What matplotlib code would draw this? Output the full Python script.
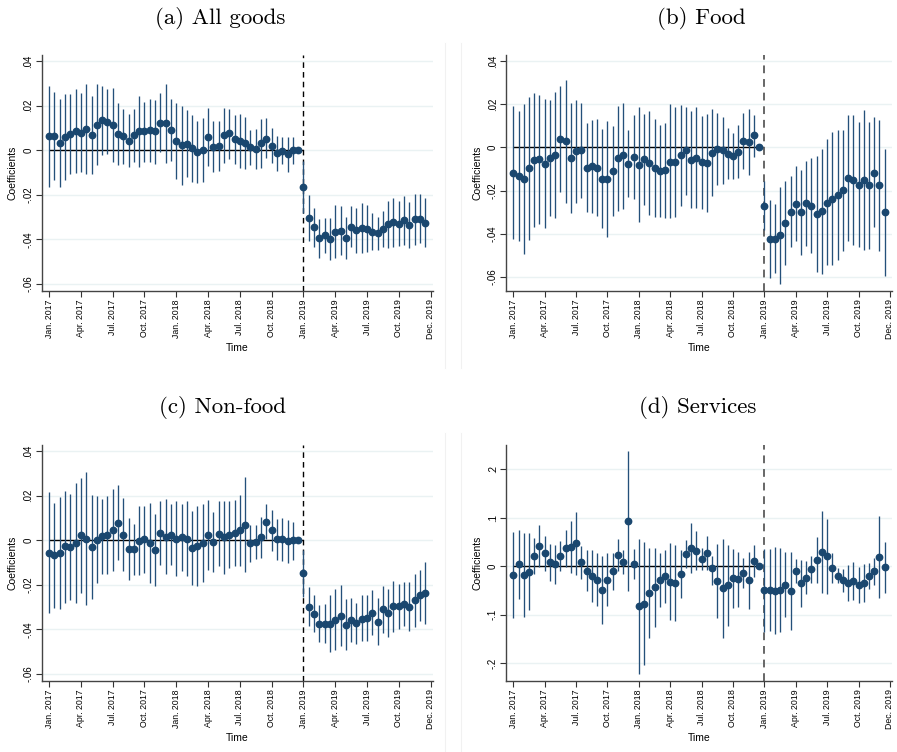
import numpy as np
import matplotlib
matplotlib.use("Agg")
import matplotlib.pyplot as plt
from matplotlib.lines import Line2D

# half-month periods, Jan. 2017 .. second half of Dec. 2019; index 47 is the omitted reference
nan = np.nan

tick_pos = [0, 6, 12, 18, 24, 30, 36, 42, 48, 54, 60, 66, 72]
tick_labels = ["Jan. 2017", "Apr. 2017", "Jul. 2017", "Oct. 2017",
               "Jan. 2018", "Apr. 2018", "Jul. 2018", "Oct. 2018",
               "Jan. 2019", "Apr. 2019", "Jul. 2019", "Oct. 2019", "Dec. 2019"]
event_period = 48

titles = ["(a) All goods", "(b) Food", "(c) Non-food", "(d) Services"]

all_coef = [.0063, .0063, .0030, .0057, .0072, .0085, .0078, .0094, .0069, .0113, .0133, .0128,
            .0113, .0072, .0063, .0043, .0066, .0085, .0085, .0090, .0084, .0124, .0122, .0091,
            .0040, .0021, .0027, .0009, -.0009, .0001, .0060, .0016, .0019, .0066, .0075, .0049,
            .0043, .0033, .0013, .0007, .0030, .0052, .0018, -.0015, -.0003, -.0019, .0001, 0,
            -.0167, -.0304, -.0346, -.0394, -.0382, -.0397, -.0367, -.0361, -.0393, -.0343, -.0358, -.0351,
            -.0352, -.0366, -.0373, -.0352, -.0333, -.0324, -.0333, -.0315, -.0334, -.0309, -.0309, -.0325]
all_hi = [.0290, .0263, .0228, .0252, .0250, .0273, .0258, .0299, .0245, .0299, .0288, .0275,
          .0279, .0210, .0184, .0161, .0184, .0242, .0216, .0228, .0224, .0255, .0296, .0228,
          .0210, .0199, .0178, .0158, .0131, .0143, .0188, .0131, .0131, .0188, .0185, .0158,
          .0164, .0149, .0091, .0096, .0139, .0142, .0099, .0064, .0060, .0060, .0060, nan,
          -.0051, -.0201, -.0258, -.0307, -.0304, -.0304, -.0248, -.0251, -.0300, -.0252, -.0260, -.0237,
          -.0246, -.0281, -.0299, -.0273, -.0228, -.0215, -.0228, -.0207, -.0234, -.0196, -.0199, -.0216]
all_lo = [-.0164, -.0133, -.0167, -.0136, -.0106, -.0104, -.0100, -.0106, -.0106, -.0069, -.0024, -.0019,
          -.0052, -.0067, -.0061, -.0075, -.0052, -.0076, -.0052, -.0052, -.0063, -.0010, -.0057, -.0049,
          -.0130, -.0158, -.0122, -.0142, -.0148, -.0143, -.0073, -.0100, -.0094, -.0060, -.0039, -.0061,
          -.0081, -.0085, -.0066, -.0084, -.0081, -.0034, -.0060, -.0093, -.0064, -.0097, -.0061, nan,
          -.0280, -.0407, -.0434, -.0482, -.0461, -.0493, -.0482, -.0472, -.0487, -.0433, -.0461, -.0461,
          -.0457, -.0449, -.0449, -.0437, -.0439, -.0433, -.0430, -.0424, -.0439, -.0425, -.0418, -.0436]

food_coef = [-.0116, -.0134, -.0147, -.0096, -.0056, -.0054, -.0076, -.0048, -.0034, .0040, .0031, -.0049,
             -.0015, -.0012, -.0093, -.0088, -.0093, -.0144, -.0145, -.0108, -.0049, -.0037, -.0076, -.0045,
             -.0080, -.0054, -.0073, -.0094, -.0111, -.0106, -.0066, -.0069, -.0037, -.0012, -.0057, -.0048,
             -.0068, -.0074, -.0025, -.0006, -.0012, -.0028, -.0040, -.0019, .0031, .0026, .0056, 0,
             -.0272, -.0426, -.0424, -.0407, -.0349, -.0298, -.0261, -.0301, -.0259, -.0269, -.0307, -.0296,
             -.0255, -.0238, -.0219, -.0198, -.0140, -.0150, -.0174, -.0150, -.0176, -.0116, -.0176, -.0299]
food_hi = [.0193, .0170, .0201, .0235, .0252, .0245, .0224, .0221, .0258, .0285, .0313, .0204,
           .0221, .0207, .0111, .0127, .0130, .0086, .0122, .0100, .0191, .0208, .0080, .0150,
           .0188, .0154, .0168, .0134, .0103, .0113, .0199, .0185, .0196, .0188, .0167, .0188,
           .0147, .0153, .0176, .0159, .0139, .0091, .0065, .0103, .0159, .0177, .0151, nan,
           -.0157, -.0244, -.0262, -.0182, -.0156, -.0134, -.0085, -.0102, -.0063, -.0049, -.0039, -.0005,
           .0040, .0073, .0082, .0083, .0151, .0151, .0117, .0174, .0120, .0139, .0128, -.0005]
food_lo = [-.0424, -.0434, -.0494, -.0427, -.0366, -.0352, -.0373, -.0319, -.0327, -.0205, -.0255, -.0302,
           -.0258, -.0233, -.0301, -.0304, -.0319, -.0375, -.0415, -.0319, -.0292, -.0287, -.0230, -.0238,
           -.0347, -.0265, -.0312, -.0324, -.0324, -.0326, -.0327, -.0323, -.0272, -.0219, -.0282, -.0282,
           -.0284, -.0301, -.0225, -.0173, -.0170, -.0148, -.0145, -.0142, -.0100, -.0128, -.0042, nan,
           -.0384, -.0606, -.0583, -.0630, -.0542, -.0461, -.0435, -.0500, -.0455, -.0489, -.0577, -.0588,
           -.0546, -.0546, -.0519, -.0478, -.0435, -.0452, -.0463, -.0474, -.0469, -.0370, -.0481, -.0593]

nonfood_coef = [-.0057, -.0067, -.0058, -.0028, -.0030, -.0012, .0024, .0007, -.0030, .0001, .0018, .0022,
                .0046, .0079, .0025, -.0039, -.0042, -.0004, .0003, -.0013, -.0045, .0031, .0016, .0025,
                .0007, .0013, .0007, -.0036, -.0025, -.0013, .0024, -.0009, .0028, .0015, .0024, .0033,
                .0045, .0070, -.0013, -.0007, .0012, .0082, .0045, .0006, .0004, -.0006, -.0001, 0,
                -.0146, -.0299, -.0333, -.0375, -.0378, -.0376, -.0357, -.0339, -.0379, -.0358, -.0373, -.0352,
                -.0349, -.0325, -.0366, -.0310, -.0327, -.0297, -.0297, -.0285, -.0299, -.0270, -.0248, -.0236]
nonfood_hi = [.0218, .0167, .0193, .0222, .0207, .0255, .0281, .0304, .0201, .0197, .0184, .0196,
              .0228, .0246, .0191, .0100, .0073, .0151, .0154, .0167, .0118, .0176, .0184, .0163,
              .0176, .0163, .0176, .0131, .0152, .0161, .0181, .0125, .0176, .0175, .0175, .0179,
              .0203, .0284, .0067, .0069, .0103, .0160, .0136, .0094, .0099, .0091, .0082, nan,
              -.0043, -.0210, -.0248, -.0293, -.0288, -.0246, -.0218, -.0203, -.0263, -.0260, -.0281, -.0248,
              -.0246, -.0224, -.0260, -.0207, -.0219, -.0184, -.0197, -.0188, -.0188, -.0151, -.0133, -.0096]
nonfood_lo = [-.0328, -.0303, -.0309, -.0281, -.0270, -.0284, -.0237, -.0293, -.0266, -.0194, -.0152, -.0151,
              -.0139, -.0090, -.0140, -.0179, -.0158, -.0157, -.0149, -.0191, -.0207, -.0112, -.0151, -.0110,
              -.0161, -.0137, -.0163, -.0203, -.0204, -.0188, -.0134, -.0142, -.0118, -.0151, -.0125, -.0116,
              -.0115, -.0143, -.0097, -.0084, -.0079, .0007, -.0051, -.0088, -.0093, -.0103, -.0087, nan,
              -.0257, -.0387, -.0412, -.0457, -.0464, -.0503, -.0493, -.0475, -.0491, -.0457, -.0467, -.0454,
              -.0454, -.0428, -.0470, -.0418, -.0436, -.0412, -.0399, -.0387, -.0409, -.0391, -.0364, -.0376]

serv_coef = [-.0179, .0041, -.0172, -.0110, .0220, .0412, .0268, .0089, .0048, .0213, .0371, .0399,
             .0474, .0082, -.0089, -.0192, -.0275, -.0495, -.0275, -.0096, .0241, .0096, .0935, .0041,
             -.0825, -.0770, -.0543, -.0426, -.0282, -.0206, -.0316, -.0344, -.0151, .0247, .0371, .0323,
             .0158, .0275, -.0027, -.0302, -.0454, -.0392, -.0241, -.0268, -.0131, -.0282, .0110, 0,
             -.0495, -.0488, -.0502, -.0488, -.0378, -.0509, -.0096, -.0351, -.0234, -.0062, .0131, .0296,
             .0206, -.0027, -.0192, -.0289, -.0344, -.0302, -.0385, -.0337, -.0206, -.0103, .0192, -.0021]
serv_hi = [.0701, .0749, .0694, .0680, .0577, .0852, .0625, .0460, .0440, .0515, .0749, .0935,
           .1127, .0419, .0330, .0330, .0275, .0213, .0275, .0275, .0564, .0344, .2378, .0357,
           .0570, .0502, .0385, .0385, .0268, .0337, .0481, .0440, .0344, .0543, .0893, .0722,
           .0385, .0625, .0206, .0454, .0570, .0440, .0357, .0296, .0179, .0302, .0433, nan,
           .0364, .0364, .0392, .0378, .0296, .0296, .0151, .0131, .0110, .0213, .0598, .1141,
           .0969, .0268, -.0034, -.0062, .0021, .0096, -.0014, .0048, .0062, .0172, .1038, .0502]
serv_lo = [-.1072, -.0667, -.1038, -.0900, -.0151, -.0021, -.0089, -.0302, -.0357, -.0096, -.0007, -.0137,
           -.0179, -.0254, -.0509, -.0735, -.0825, -.1189, -.0825, -.0481, -.0089, -.0151, -.0502, -.0254,
           -.2213, -.2034, -.1471, -.1244, -.0832, -.0749, -.1113, -.1134, -.0646, -.0041, -.0144, -.0069,
           -.0076, -.0082, -.0385, -.1072, -.1485, -.1230, -.0852, -.0838, -.0447, -.0880, -.0213, nan,
           -.1347, -.1333, -.1395, -.1347, -.1052, -.1313, -.0344, -.0832, -.0577, -.0344, -.0344, -.0550,
           -.0564, -.0351, -.0351, -.0522, -.0715, -.0701, -.0756, -.0735, -.0474, -.0378, -.0646, -.0543]

panels = [
    (all_coef, all_lo, all_hi, [.04, .02, 0, -.02, -.04, -.06], (-.0631, .0427)),
    (food_coef, food_lo, food_hi, [.04, .02, 0, -.02, -.04, -.06], (-.0663, .0428)),
    (nonfood_coef, nonfood_lo, nonfood_hi, [.04, .02, 0, -.02, -.04, -.06], (-.0631, .0427)),
    (serv_coef, serv_lo, serv_hi, [.2, .1, 0, -.1, -.2], (-.236, .25)),
]


def stata_label(v):
    if v == 0:
        return "0"
    s = f"{v:g}"
    return s.replace("0.", ".")


W, H = 897, 752
navy = "#1a476f"
fig = plt.figure(figsize=(W / 100, H / 100), dpi=100)

# axes boxes in pixels: (left, top, right, bottom)
boxes = [(41.7, 55, 432.7, 290.7), (506, 55, 892, 290.7),
         (41.7, 445, 432.7, 680.7), (506, 445, 892, 680.7)]
title_xy = [(220, 18), (701, 18), (222, 408), (698, 408)]

for k, (coef, lo, hi, yticks, ylim) in enumerate(panels):
    l, t, r, b = boxes[k]
    ax = fig.add_axes([l / W, 1 - b / H, (r - l) / W, (b - t) / H])
    x = np.arange(len(coef))
    coef = np.array(coef)

    ax.vlines(x, lo, hi, color="#24507a", lw=0.95, zorder=3)
    ax.plot(x, coef, "o", color=navy, ms=4.6, mec=navy, zorder=4)
    ax.hlines(0, 0, event_period, color="black", lw=1.0, zorder=2)
    right_col = k % 2 == 1
    ax.axvline(event_period, color="#666666" if right_col else "black",
               lw=1.4 if right_col else 1.0, ls=(0, (4, 3)), zorder=2)

    ax.set_xlim(-1.4, 72.4)
    ax.set_ylim(*ylim)
    ax.set_yticks(yticks)
    ax.set_yticklabels([stata_label(v) for v in yticks], rotation=90, va="center",
                       fontsize=7, family="Liberation Sans")
    ax.set_xticks(tick_pos)
    ax.set_xticklabels(tick_labels, rotation=90, fontsize=6.3, family="Liberation Sans")
    ax.tick_params(length=4, width=0.8, color="#333333", pad=2)
    ax.grid(axis="y", color="#eaf2f3", lw=1.0, zorder=0)
    ax.set_axisbelow(True)
    for s in ["top", "right"]:
        ax.spines[s].set_visible(False)
    for s in ["left", "bottom"]:
        ax.spines[s].set_color("#444444")
        ax.spines[s].set_linewidth(1.0)
    ax.set_ylabel("Coefficients", fontsize=7.5, family="Liberation Sans", labelpad=4)
    ax.set_xlabel("Time", fontsize=7.5, family="Liberation Sans", labelpad=3)

    tx, ty = title_xy[k]
    fig.text(tx / W, 1 - ty / H, titles[k], ha="center", va="center",
             fontsize=16.5, family="cmr10")

# faint borders of the pasted sub-figures
for xb in (444.7, 461.3):
    for y0, y1 in ((43, 368), (433, 752)):
        fig.add_artist(Line2D([xb / W, xb / W], [1 - y0 / H, 1 - y1 / H],
                              color="#f1f1f1", lw=0.8))

fig.savefig("out.png", dpi=100)
